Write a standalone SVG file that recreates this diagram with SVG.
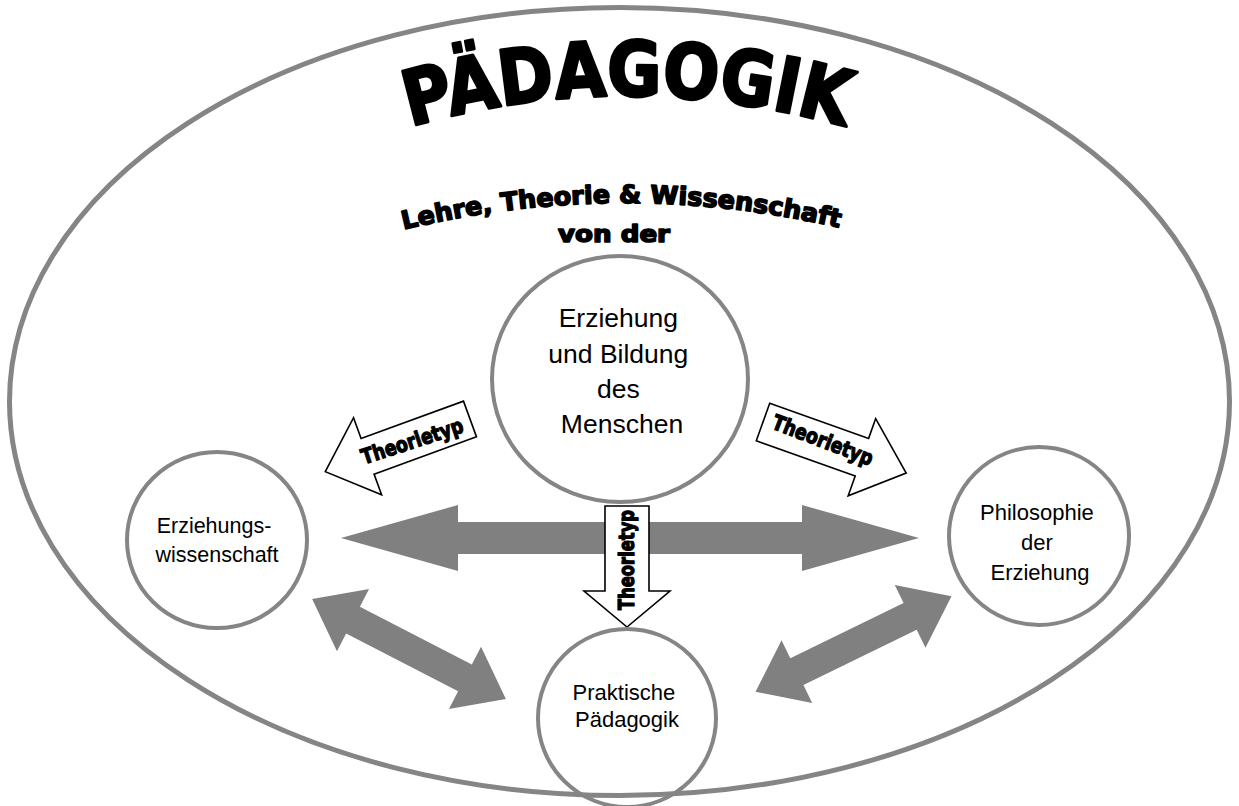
<svg xmlns="http://www.w3.org/2000/svg" width="1239" height="806" viewBox="0 0 1239 806">
  <defs>
    <style>
      .ring { fill: #fff; stroke: #858585; stroke-width: 4; }
      .outer { fill: none; stroke: #858585; stroke-width: 5; }
      .grey-arrow { fill: #808080; stroke: none; }
      .type-arrow { fill: #fff; stroke: #000; stroke-width: 1.6; stroke-linejoin: miter; }
      .heavy { font-family: 'DejaVu Sans', 'Liberation Sans', sans-serif; font-weight: bold; fill: #000; stroke: #000; stroke-linejoin: round; }
      .label { font-family: 'Liberation Sans', 'DejaVu Sans', sans-serif; fill: #000; text-anchor: middle; }
    </style>
    <!-- double-headed block arrows, centred on the origin along the x axis -->
    <polygon id="dbl-long" points="-289,0 -172,-33 -172,-16 172,-16 172,-33 289,0 172,33 172,16 -172,16 -172,33"/>
    <polygon id="dbl-short" points="-109,0 -63,-35 -63,-15 63,-15 63,-35 109,0 63,35 63,15 -63,15 -63,35"/>
    <!-- arched baselines for the heading -->
    <path id="arc-title" d="M 405 128 Q 627 64 850 128" fill="none"/>
    <path id="arc-sub" d="M 398 231 Q 620 176 845 229" fill="none"/>
  </defs>

  <rect width="1239" height="806" fill="#fff"/>

  <!-- heading -->
  <g id="heading">
    <text class="heavy" font-size="76" stroke-width="3">
      <textPath href="#arc-title" startOffset="50%" text-anchor="middle" textLength="440" lengthAdjust="spacingAndGlyphs">PÄDAGOGIK</textPath>
    </text>
    <text class="heavy" font-size="25" stroke-width="1.6">
      <textPath href="#arc-sub" startOffset="50%" text-anchor="middle" textLength="440" lengthAdjust="spacingAndGlyphs">Lehre, Theorie &amp; Wissenschaft</textPath>
    </text>
    <text class="heavy" x="614" y="242" font-size="23" stroke-width="1.6" text-anchor="middle" textLength="112" lengthAdjust="spacingAndGlyphs">von der</text>
  </g>

  <!-- connectors -->
  <g id="connectors">
    <use href="#dbl-long" class="grey-arrow" transform="translate(630,538)"/>
    <use href="#dbl-short" class="grey-arrow" transform="translate(409,649) rotate(27.3)"/>
    <use href="#dbl-short" class="grey-arrow" transform="translate(853.5,644) rotate(-26)"/>

    <g id="type-left">
      <polygon class="type-arrow" transform="translate(470,419) rotate(160)" points="0,-19 109,-19 109,-41 154,0 109,41 109,19 0,19"/>
      <text class="heavy" font-size="21" stroke-width="1.3" text-anchor="middle" transform="translate(412,441) rotate(-18)" y="7.5" textLength="106" lengthAdjust="spacingAndGlyphs">Theorietyp</text>
    </g>
    <g id="type-right">
      <polygon class="type-arrow" transform="translate(763,422) rotate(19.6)" points="0,-20 105,-20 105,-41 152,0 105,41 105,20 0,20"/>
      <text class="heavy" font-size="21" stroke-width="1.3" text-anchor="middle" transform="translate(823,440) rotate(21)" y="7.5" textLength="106" lengthAdjust="spacingAndGlyphs">Theorietyp</text>
    </g>
    <g id="type-down">
      <polygon class="type-arrow" transform="translate(627,506) rotate(90)" points="0,-22 85,-22 85,-43 121,0 85,43 85,22 0,22"/>
      <text class="heavy" font-size="21" stroke-width="1.3" text-anchor="middle" transform="translate(626,560) rotate(-90)" y="7.5" textLength="100" lengthAdjust="spacingAndGlyphs">Theorietyp</text>
    </g>
  </g>

  <!-- centre node -->
  <g id="node-erziehung-bildung">
    <ellipse class="ring" cx="620" cy="379" rx="128" ry="123"/>
    <text class="label" font-size="26.5">
      <tspan x="622" y="327">Erziehung</tspan>
      <tspan x="622" y="363">und Bildung</tspan>
      <tspan x="622" y="398">des</tspan>
      <tspan x="622" y="433">Menschen</tspan>
    </text>
  </g>

  <g id="node-erziehungswissenschaft">
    <ellipse class="ring" cx="217" cy="540" rx="90" ry="88"/>
    <text class="label" font-size="21.5">
      <tspan x="217" y="533">Erziehungs-</tspan>
      <tspan x="217" y="562">wissenschaft</tspan>
    </text>
  </g>

  <g id="node-philosophie">
    <ellipse class="ring" cx="1039" cy="536" rx="90" ry="89"/>
    <text class="label" font-size="22">
      <tspan x="1040" y="520">Philosophie</tspan>
      <tspan x="1040" y="550">der</tspan>
      <tspan x="1040" y="580">Erziehung</tspan>
    </text>
  </g>

  <g id="node-praktische">
    <ellipse class="ring" cx="627" cy="718" rx="89" ry="89"/>
    <text class="label" font-size="22">
      <tspan x="627" y="700">Praktische</tspan>
      <tspan x="627" y="727">Pädagogik</tspan>
    </text>
  </g>

  <!-- enclosing ellipse -->
  <g id="frame">
    <ellipse class="outer" cx="619.5" cy="401.5" rx="610" ry="394"/>
  </g>
</svg>
